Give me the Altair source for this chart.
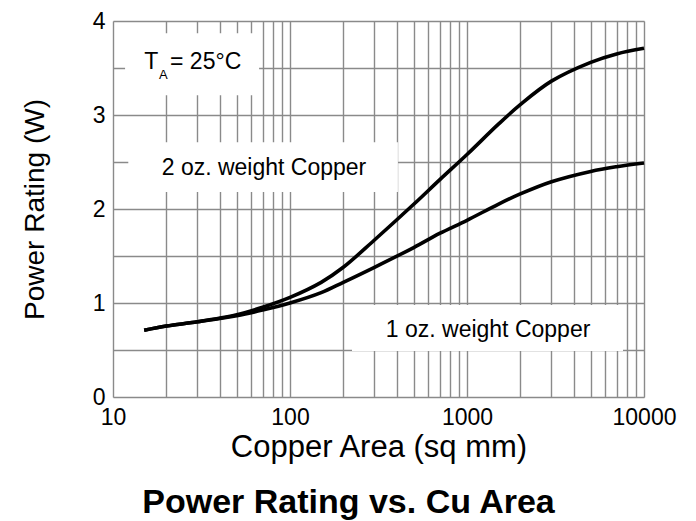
import altair as alt
import pandas as pd

# Curve data
area = [15, 20, 30, 50, 70, 100, 150, 200, 300, 500, 700, 1000, 1500, 2000, 3000, 5000, 7000, 10000]
p_2oz = [0.71, 0.755, 0.80, 0.875, 0.955, 1.06, 1.22, 1.38, 1.67, 2.05, 2.31, 2.58, 2.90, 3.11, 3.36, 3.56, 3.65, 3.71]
p_1oz = [0.71, 0.755, 0.80, 0.865, 0.925, 1.00, 1.11, 1.22, 1.38, 1.59, 1.74, 1.88, 2.05, 2.16, 2.29, 2.40, 2.45, 2.49]

x_ticks = [10, 20, 30, 40, 50, 60, 70, 80, 90, 100, 200, 300, 400, 500, 600, 700, 800, 900,
           1000, 2000, 3000, 4000, 5000, 6000, 7000, 8000, 9000, 10000]
y_ticks = [0, 0.5, 1, 1.5, 2, 2.5, 3, 3.5, 4]

# annotation boxes (data coordinates)
box_x = [11.7, 12.2, 224]
box_x2 = [66.9, 407, 7610]
box_y = [3.87, 2.71, 0.98]
box_y2 = [3.21, 2.18, 0.49]

lab_text = ["2 oz. weight Copper", "1 oz. weight Copper"]
lab_x = [71.3, 1315]
lab_y = [2.36, 0.64]

FONT = "Liberation Sans"

rows = []
for a, v in zip(area, p_2oz):
    rows.append({"area": a, "power": v, "series": "2 oz"})
for a, v in zip(area, p_1oz):
    rows.append({"area": a, "power": v, "series": "1 oz"})
df = pd.DataFrame(rows)

xscale = alt.Scale(type="log", domain=[10, 10000], nice=False)
yscale = alt.Scale(domain=[0, 4], nice=False, zero=False)

xaxis = alt.Axis(
    values=x_ticks, title="Copper Area (sq mm)",
    labelExpr="(datum.value == 10 || datum.value == 100 || datum.value == 1000 || datum.value == 10000) ? datum.value : ''",
    grid=True, gridColor="#8a8a8a", gridWidth=1.4, ticks=False, domain=False,
    labelFont=FONT, labelFontSize=23, labelColor="black", labelPadding=9,
    labelFlush=False, labelBound=False, labelOverlap=False,
    titleFont=FONT, titleFontSize=31, titleFontWeight="normal", titleColor="black", titlePadding=3,
)
yaxis = alt.Axis(
    values=y_ticks, title="Power Rating (W)",
    labelExpr="datum.value % 1 == 0 ? datum.value : ''",
    grid=True, gridColor="#8a8a8a", gridWidth=1.4, ticks=False, domain=False,
    labelFont=FONT, labelFontSize=23, labelColor="black", labelPadding=8,
    labelFlush=False, labelBound=False, labelOverlap=False,
    titleFont=FONT, titleFontSize=28, titleFontWeight="normal", titleColor="black", titlePadding=43,
)

base_lines = alt.Chart(df).mark_line(color="black", strokeWidth=3.6, interpolate="catmull-rom").encode(
    x=alt.X("area:Q", scale=xscale, axis=xaxis),
    y=alt.Y("power:Q", scale=yscale, axis=yaxis),
    detail="series:N",
)

boxes = alt.Chart(pd.DataFrame({"x": box_x, "x2": box_x2, "y": box_y, "y2": box_y2})).mark_rect(
    color="white", opacity=1
).encode(
    x=alt.X("x:Q", scale=xscale), x2="x2:Q",
    y=alt.Y("y:Q", scale=yscale), y2="y2:Q",
)

labels = alt.Chart(pd.DataFrame({"t": lab_text, "x": lab_x, "y": lab_y})).mark_text(
    font=FONT, fontSize=23, color="black", align="center", baseline="alphabetic"
).encode(
    x=alt.X("x:Q", scale=xscale), y=alt.Y("y:Q", scale=yscale), text="t:N"
)

ta_df = pd.DataFrame({"t": ["T", "A", "= 25°C"], "x": [15.0, 18.2, 21.0], "y": [3.49, 3.38, 3.49],
                      "s": [23, 13, 23]})
ta = alt.Chart(ta_df).mark_text(
    font=FONT, color="black", align="left", baseline="alphabetic"
).encode(
    x=alt.X("x:Q", scale=xscale), y=alt.Y("y:Q", scale=yscale), text="t:N",
    size=alt.Size("s:Q", scale=None, legend=None),
)

chart = alt.layer(boxes, base_lines, labels, ta).properties(
    width=531, height=376,
    autosize=alt.AutoSizeParams(type="none"),
    padding={"left": 105, "top": 13, "right": 44, "bottom": 124},
    title=alt.TitleParams(
        "Power Rating vs. Cu Area", orient="bottom", anchor="middle", dx=-30, offset=24,
        font=FONT, fontSize=34, fontWeight="bold", color="black",
    ),
).configure_view(stroke="black", strokeWidth=3.5).configure(background="white")

chart.save("out.html", embed_options={"renderer": "svg", "actions": False})
